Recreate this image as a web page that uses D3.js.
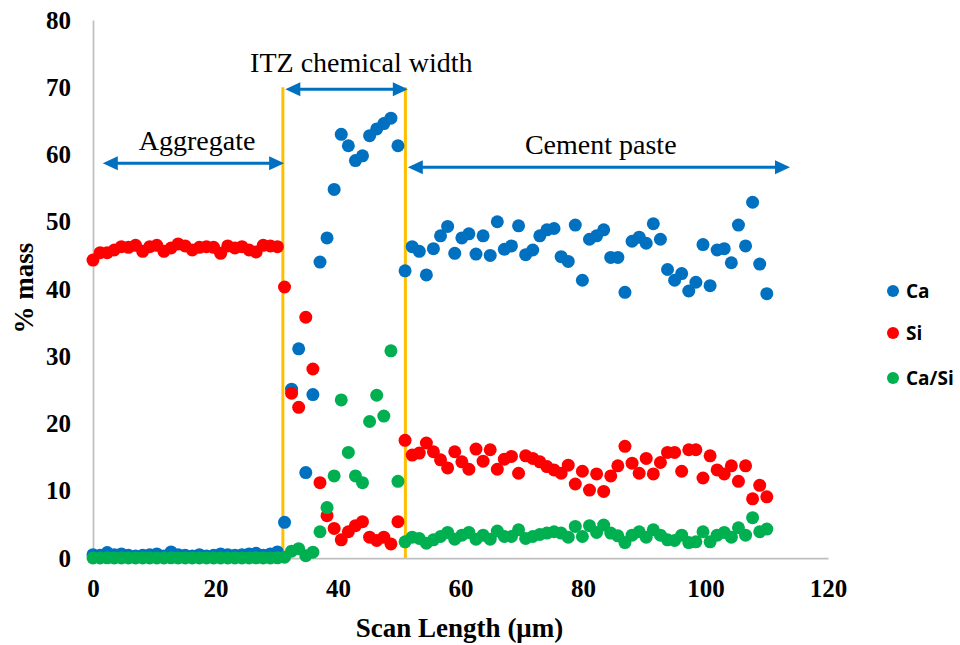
<!DOCTYPE html>
<html>
<head>
<meta charset="utf-8">
<script src="https://cdn.jsdelivr.net/npm/d3@7/dist/d3.min.js"></script>
<style>
    html, body { margin: 0; padding: 0; background: #fff; }
    svg { display: block; }
    .tick-label { font-family: "Liberation Serif", "Times New Roman", serif; font-weight: bold; font-size: 25px; fill: #000; }
    .axis-title { font-family: "Liberation Serif", "Times New Roman", serif; font-weight: bold; font-size: 27px; fill: #000; }
    .note { font-family: "Liberation Serif", "Times New Roman", serif; font-size: 28px; fill: #000; }
    .legend-label { font-family: "Open Sans", "Liberation Sans", sans-serif; font-weight: bold; font-size: 19px; fill: #000; }
</style>
</head>
<body>
<svg id="chart" width="960" height="645"></svg>
<script>
// ─── Data ─────────────────────────────────────────────────────────────────────
// Scan positions (µm), one per EDS point
const scanLength = [
    0, 1.16, 2.32, 3.47, 4.63, 5.79, 6.95, 8.11, 9.26, 10.42,
    11.58, 12.74, 13.9, 15.05, 16.21, 17.37, 18.53, 19.69, 20.84, 22.0,
    23.16, 24.32, 25.48, 26.63, 27.79, 28.95, 30.11, 31.27, 32.42, 33.58,
    34.74, 35.9, 37.06, 38.21, 39.37, 40.53, 41.69, 42.85, 44.0, 45.16,
    46.32, 47.48, 48.64, 49.79, 50.95, 52.11, 53.27, 54.43, 55.58, 56.74,
    57.9, 59.06, 60.22, 61.37, 62.53, 63.69, 64.85, 66.01, 67.16, 68.32,
    69.48, 70.64, 71.8, 72.95, 74.11, 75.27, 76.43, 77.59, 78.74, 79.9,
    81.06, 82.22, 83.38, 84.53, 85.69, 86.85, 88.01, 89.17, 90.32, 91.48,
    92.64, 93.8, 94.96, 96.11, 97.27, 98.43, 99.59, 100.75, 101.9, 103.06,
    104.22, 105.38, 106.54, 107.69, 108.85, 110.01
];

const caMass = [
    0.5, 0.4, 0.8, 0.5, 0.6, 0.4, 0.3, 0.4, 0.5, 0.6,
    0.3, 0.9, 0.5, 0.4, 0.3, 0.5, 0.3, 0.4, 0.6, 0.5,
    0.4, 0.5, 0.6, 0.7, 0.4, 0.6, 0.9, 5.3, 25.1, 31.1,
    12.7, 24.3, 44.0, 47.6, 54.8, 63.0, 61.3, 59.1, 59.8, 62.8,
    63.8, 64.6, 65.4, 61.3, 42.7, 46.3, 45.6, 42.1, 46.0, 47.9,
    49.3, 45.3, 47.6, 48.2, 45.2, 47.9, 45.0, 50.0, 45.9, 46.4,
    49.4, 45.1, 45.8, 47.9, 48.8, 49.0, 44.8, 44.1, 49.5, 41.3,
    47.4, 47.9, 48.8, 44.7, 44.7, 39.5, 47.1, 47.7, 46.8, 49.7,
    47.4, 42.9, 41.3, 42.3, 39.7, 41.0, 46.6, 40.5, 45.8, 46.0,
    43.9, 49.5, 46.4, 52.9, 43.7, 39.3
];

const siMass = [
    44.3, 45.4, 45.4, 45.8, 46.3, 46.2, 46.5, 45.6, 46.3, 46.5,
    45.6, 46.1, 46.7, 46.4, 45.8, 46.2, 46.3, 46.2, 45.3, 46.4,
    46.1, 46.3, 45.8, 45.5, 46.5, 46.4, 46.3, 40.3, 24.5, 22.4,
    35.8, 28.1, 11.2, 6.3, 4.4, 2.7, 3.9, 4.8, 5.4, 3.1,
    2.6, 3.1, 2.1, 5.4, 17.5, 15.3, 15.6, 17.1, 15.8, 14.6,
    13.4, 15.8, 14.3, 13.2, 16.2, 14.4, 16.1, 13.2, 14.7, 15.1,
    12.6, 15.2, 14.8, 14.3, 13.6, 13.1, 12.6, 13.8, 11.0, 12.9,
    10.1, 12.5, 9.9, 12.2, 13.7, 16.6, 14.1, 12.6, 14.8, 12.5,
    14.2, 15.7, 15.7, 12.9, 16.1, 16.1, 11.9, 15.2, 13.1, 12.5,
    13.7, 11.4, 13.7, 8.8, 10.8, 9.1
];

const caSiRatio = [
    0.01, 0.01, 0.02, 0.01, 0.01, 0.01, 0.01, 0.01, 0.01, 0.01,
    0.01, 0.02, 0.01, 0.01, 0.01, 0.01, 0.01, 0.01, 0.01, 0.01,
    0.01, 0.01, 0.01, 0.02, 0.01, 0.01, 0.02, 0.13, 1.02, 1.39,
    0.35, 0.86, 3.9, 7.5, 12.2, 23.5, 15.7, 12.2, 11.2, 20.3,
    24.2, 21.1, 30.8, 11.4, 2.4, 3.1, 2.9, 2.2, 2.7, 3.2,
    3.8, 2.8, 3.4, 3.8, 2.8, 3.4, 2.8, 4.0, 3.2, 3.2,
    4.2, 2.9, 3.2, 3.5, 3.7, 3.9, 3.7, 3.1, 4.7, 3.2,
    4.8, 3.8, 4.9, 3.7, 3.3, 2.3, 3.4, 3.9, 3.1, 4.2,
    3.4, 2.7, 2.6, 3.4, 2.3, 2.4, 3.9, 2.4, 3.4, 3.8,
    3.1, 4.5, 3.4, 6.0, 3.9, 4.3
];

const seriesNames  = ["Ca", "Si", "Ca/Si"];
const seriesColors = ["#0070C0", "#FF0000", "#00B050"];
const xTicks = [0, 20, 40, 60, 80, 100, 120];
const yTicks = [0, 10, 20, 30, 40, 50, 60, 70, 80];

// ITZ boundaries (µm) and zone annotations (data units)
const itzBounds = [31.0, 51.0];
const itzTop = 70;
const zoneArrows = [
    { from: 1.6,  to: 31.2,  y: 58.7 },
    { from: 31.4, to: 51.4,  y: 69.7 },
    { from: 51.4, to: 113.8, y: 58.1 },
];
const zoneLabels = [
    { text: "Aggregate",          x: 17.0, y: 60.7 },
    { text: "ITZ chemical width", x: 43.8, y: 72.2 },
    { text: "Cement paste",       x: 82.9, y: 60.1 },
];

// ─── Layout ───────────────────────────────────────────────────────────────────
const plot = { left: 93, right: 828, top: 20, bottom: 558 };

const svg = d3.select("#chart");

const x = d3.scaleLinear().domain([0, 120]).range([plot.left, plot.right]);
const y = d3.scaleLinear().domain([0, 80]).range([plot.bottom, plot.top]);

// ─── Axes ─────────────────────────────────────────────────────────────────────
const xAxis = svg.append("g")
    .attr("transform", `translate(0,${plot.bottom})`)
    .call(d3.axisBottom(x).tickValues(xTicks).tickSize(0).tickPadding(21));

const yAxis = svg.append("g")
    .attr("transform", `translate(${plot.left},0)`)
    .call(d3.axisLeft(y).tickValues(yTicks).tickSize(0).tickPadding(22));

[xAxis, yAxis].forEach(g => {
    g.select(".domain").attr("stroke", "#BFBFBF").attr("stroke-width", 1.75);
    g.selectAll(".tick text").attr("class", "tick-label").attr("font-family", null).attr("font-size", null);
});

svg.append("text")
    .attr("class", "axis-title")
    .attr("text-anchor", "middle")
    .attr("x", (plot.left + plot.right) / 2 - 1)
    .attr("y", 637)
    .text("Scan Length (\u03bcm)");

svg.append("text")
    .attr("class", "axis-title")
    .attr("text-anchor", "middle")
    .attr("transform", "translate(33,288) rotate(-90)")
    .text("% mass");

// ─── ITZ boundary lines ───────────────────────────────────────────────────────
svg.append("g").selectAll("line")
    .data(itzBounds)
    .join("line")
    .attr("x1", d => x(d)).attr("x2", d => x(d))
    .attr("y1", y(0)).attr("y2", y(itzTop))
    .attr("stroke", "#FFC000")
    .attr("stroke-width", 3);

// ─── Series ───────────────────────────────────────────────────────────────────
const seriesValues = [caMass, siMass, caSiRatio];

seriesValues.forEach((vals, s) => {
    svg.append("g").selectAll("circle")
        .data(vals)
        .join("circle")
        .attr("cx", (d, i) => x(scanLength[i]))
        .attr("cy", d => y(d))
        .attr("r", 6.5)
        .attr("fill", seriesColors[s]);
});

// ─── Zone arrows & labels ─────────────────────────────────────────────────────
const arrowColor = "#0070C0";
const headLen = 15, headHalf = 7;
const arrows = svg.append("g");

zoneArrows.forEach(a => {
    const x0 = x(a.from), x1 = x(a.to), yy = y(a.y);
    arrows.append("line")
        .attr("x1", x0 + headLen - 2).attr("x2", x1 - headLen + 2)
        .attr("y1", yy).attr("y2", yy)
        .attr("stroke", arrowColor)
        .attr("stroke-width", 3);
    arrows.append("path")
        .attr("d", `M${x0},${yy}L${x0 + headLen},${yy - headHalf}L${x0 + headLen},${yy + headHalf}Z`)
        .attr("fill", arrowColor);
    arrows.append("path")
        .attr("d", `M${x1},${yy}L${x1 - headLen},${yy - headHalf}L${x1 - headLen},${yy + headHalf}Z`)
        .attr("fill", arrowColor);
});

svg.append("g").selectAll("text")
    .data(zoneLabels)
    .join("text")
    .attr("class", "note")
    .attr("text-anchor", "middle")
    .attr("x", d => x(d.x))
    .attr("y", d => y(d.y))
    .text(d => d.text);

// ─── Legend ───────────────────────────────────────────────────────────────────
const legendY = [291, 333, 378];
const legend = svg.append("g").selectAll("g")
    .data(seriesNames)
    .join("g")
    .attr("transform", (d, i) => `translate(893,${legendY[i]})`);

legend.append("circle")
    .attr("r", 6)
    .attr("fill", (d, i) => seriesColors[i]);

legend.append("text")
    .attr("class", "legend-label")
    .attr("x", 13)
    .attr("dy", "0.35em")
    .text(d => d);
</script>
</body>
</html>
